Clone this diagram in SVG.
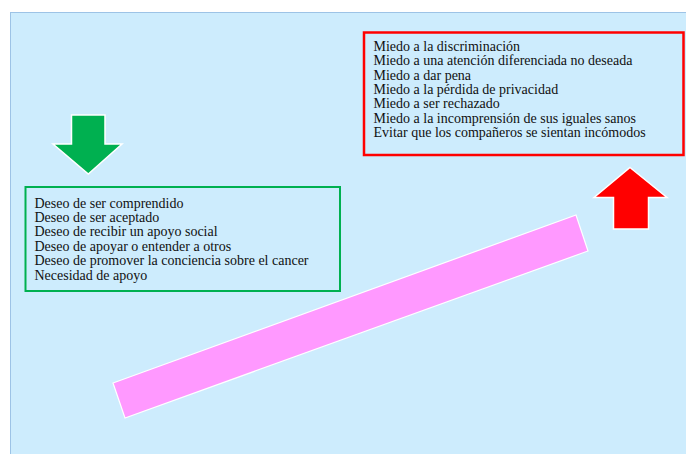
<svg xmlns="http://www.w3.org/2000/svg" width="686" height="454" viewBox="0 0 686 454">
<style>
.t{font-family:"Liberation Serif","Times New Roman",serif;font-size:14px;fill:#111}
.arrow{stroke:#ffffff;stroke-width:1.5}
</style>
<rect x="0" y="0" width="686" height="454" fill="#ffffff"/>
<rect id="background" x="10.5" y="12.5" width="680" height="450" fill="#cdecfd" stroke="#9dc3e6" stroke-width="1"/>
<g id="connectors">
<polygon id="pink-bar" points="113,383 576,215 588,251 125,418" fill="#ff99ff" stroke="#ffffff" stroke-width="1.2"/>
<polygon id="green-arrow" class="arrow" points="71.5,115 105,115 105,144 122,144 88.3,174 53,144 71.5,144" fill="#00b050"/>
<polygon id="red-arrow" class="arrow" points="630,167.5 667,197.5 648.5,197.5 648.5,229 613.5,229 613.5,197.5 594,197.5" fill="#ff0000"/>
</g>
<g id="fears">
<rect x="364" y="32.5" width="319.5" height="122.5" fill="none" stroke="#ff0000" stroke-width="2.5"/>
<text class="t" x="373.5" y="51">Miedo a la discriminación</text>
<text class="t" x="373.5" y="65.3">Miedo a una atención diferenciada no deseada</text>
<text class="t" x="373.5" y="79.6">Miedo a dar pena</text>
<text class="t" x="373.5" y="93.9">Miedo a la pérdida de privacidad</text>
<text class="t" x="373.5" y="108.2">Miedo a ser rechazado</text>
<text class="t" x="373.5" y="122.5">Miedo a la incomprensión de sus iguales sanos</text>
<text class="t" x="373.5" y="136.8">Evitar que los compañeros se sientan incómodos</text>
</g>
<g id="desires">
<rect x="25.5" y="187" width="314.5" height="104" fill="none" stroke="#00b050" stroke-width="2"/>
<text class="t" x="34.5" y="207.5">Deseo de ser comprendido</text>
<text class="t" x="34.5" y="221.9">Deseo de ser aceptado</text>
<text class="t" x="34.5" y="236.3">Deseo de recibir un apoyo social</text>
<text class="t" x="34.5" y="250.7">Deseo de apoyar o entender a otros</text>
<text class="t" x="34.5" y="265.1">Deseo de promover la conciencia sobre el cancer</text>
<text class="t" x="34.5" y="279.5">Necesidad de apoyo</text>
</g>
</svg>
